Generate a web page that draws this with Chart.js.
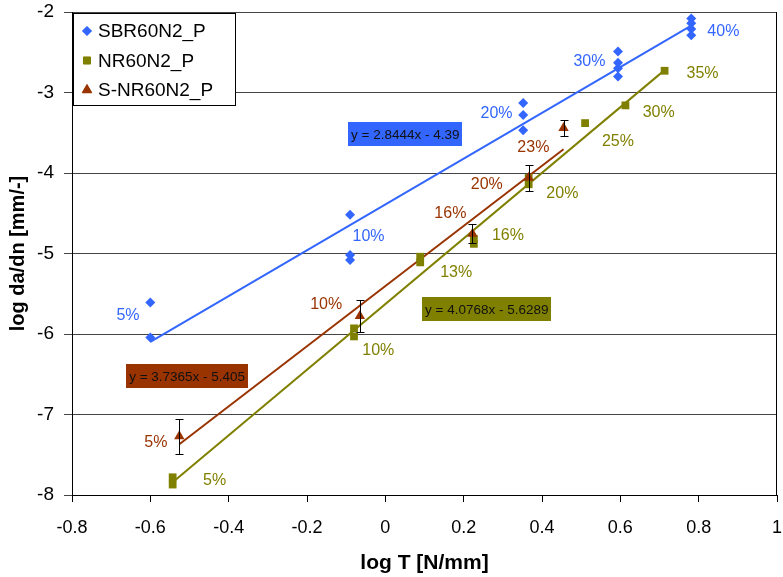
<!DOCTYPE html>
<html>
<head>
<meta charset="utf-8">
<script src="https://cdn.jsdelivr.net/npm/chart.js@4/dist/chart.umd.min.js"></script>
<style>
html,body{margin:0;padding:0;background:#fff}
</style>
</head>
<body>
<canvas id="chart" width="783" height="577"></canvas>
<script>
// series data (log T, log da/dn)
const sbrX = [-0.6, -0.6, -0.09, -0.09, -0.09, 0.352, 0.352, 0.352, 0.594, 0.594, 0.594, 0.594, 0.781, 0.781, 0.781, 0.781];
const sbrY = [-5.61, -6.045, -4.52, -5.02, -5.08, -3.13, -3.28, -3.47, -2.49, -2.63, -2.70, -2.80, -2.08, -2.14, -2.21, -2.29];
const nrX = [-0.543, -0.543, -0.08, -0.08, 0.089, 0.089, 0.226, 0.226, 0.366, 0.366, 0.510, 0.613, 0.713];
const nrY = [-7.78, -7.87, -5.93, -6.03, -5.04, -5.11, -4.82, -4.88, -4.06, -4.14, -3.38, -3.16, -2.73];
const snrX = [-0.526, -0.065, 0.2225, 0.366, 0.455];
const snrY = [-7.27, -5.775, -4.755, -4.06, -3.44];
const snrErr = [0.22, 0.20, 0.12, 0.16, 0.10];

const seriesNames = ['SBR60N2_P', 'NR60N2_P', 'S-NR60N2_P'];
const trendSlope = [2.8444, 4.0768, 3.7365];
const trendIntercept = [-4.39, -5.6289, -5.405];
const trendFrom = [-0.6, -0.543, -0.526];
const trendTo = [0.781, 0.713, 0.455];
const trendText = ['y = 2.8444x - 4.39', 'y = 4.0768x - 5.6289', 'y = 3.7365x - 5.405'];

const sbrPct = ['5%', '10%', '20%', '30%', '40%'];
const nrPct = ['5%', '10%', '13%', '16%', '20%', '25%', '30%', '35%'];
const snrPct = ['5%', '10%', '16%', '20%', '23%'];

const xTicks = [-0.8, -0.6, -0.4, -0.2, 0, 0.2, 0.4, 0.6, 0.8, 1];
const yTicks = [-8, -7, -6, -5, -4, -3, -2];

// styling / placement (data coords for where the text sits)
const COLORS = ['#3366ff', '#808000', '#993300'];
const FONT = '"Liberation Sans", Arial, sans-serif';
const pctPos = [
  [[-0.657,-5.77],[-0.043,-4.79],[0.284,-3.26],[0.521,-2.61],[0.863,-2.24]],
  [[-0.436,-7.82],[-0.018,-6.20],[0.181,-5.24],[0.313,-4.78],[0.452,-4.26],[0.594,-3.61],[0.698,-3.25],[0.810,-2.765]],
  [[-0.586,-7.35],[-0.151,-5.63],[0.166,-4.51],[0.259,-4.14],[0.378,-3.68]]
];
const eqPos = [[0.051,-3.52],[0.259,-5.69],[-0.506,-6.52]];

const pts = (xs, ys) => xs.map((v, i) => ({x: v, y: ys[i]}));
const trend = i => [
  {x: trendFrom[i], y: trendSlope[i] * trendFrom[i] + trendIntercept[i]},
  {x: trendTo[i], y: trendSlope[i] * trendTo[i] + trendIntercept[i]}
];
const noPad = s => { s.paddingTop = 0; s.paddingBottom = 0; s.paddingLeft = 0; s.paddingRight = 0; };

const overlay = {
  id: 'overlay',
  beforeDatasetsDraw(chart){
    const {ctx, chartArea: a} = chart;
    ctx.save();
    ctx.strokeStyle = '#000'; ctx.lineWidth = 1;
    ctx.beginPath();
    ctx.moveTo(Math.round(a.right) - 0.5, a.top); ctx.lineTo(Math.round(a.right) - 0.5, a.bottom);
    ctx.stroke();
    ctx.restore();
  },
  afterDatasetsDraw(chart){
    const {ctx, scales: {x, y}} = chart;
    ctx.save();
    // error bars
    ctx.strokeStyle = '#000'; ctx.lineWidth = 1;
    snrX.forEach((v, i) => {
      const px = Math.round(x.getPixelForValue(v)) + 0.5;
      const t = Math.round(y.getPixelForValue(snrY[i] + snrErr[i])) + 0.5;
      const b = Math.round(y.getPixelForValue(snrY[i] - snrErr[i])) + 0.5;
      ctx.beginPath();
      ctx.moveTo(px, t); ctx.lineTo(px, b);
      ctx.moveTo(px - 4, t); ctx.lineTo(px + 4, t);
      ctx.moveTo(px - 4, b); ctx.lineTo(px + 4, b);
      ctx.stroke();
    });
    // percent labels
    ctx.font = '16px ' + FONT;
    ctx.textAlign = 'center'; ctx.textBaseline = 'middle';
    [sbrPct, nrPct, snrPct].forEach((labels, s) => {
      ctx.fillStyle = COLORS[s];
      labels.forEach((t, i) => {
        const p = pctPos[s][i];
        ctx.fillText(t, x.getPixelForValue(p[0]), y.getPixelForValue(p[1]));
      });
    });
    // equation boxes
    ctx.font = '13.5px ' + FONT;
    trendText.forEach((t, i) => {
      const cx = x.getPixelForValue(eqPos[i][0]), cy = y.getPixelForValue(eqPos[i][1]);
      const w = ctx.measureText(t).width + 6, h = 24;
      ctx.fillStyle = COLORS[i];
      ctx.fillRect(Math.round(cx - w / 2), Math.round(cy - h / 2), Math.round(w), h);
      ctx.fillStyle = '#111';
      ctx.fillText(t, cx, cy + 1);
    });
    // legend
    const lx = 73, ly = 13, lw = 162, lh = 92;
    ctx.fillStyle = '#fff';
    ctx.fillRect(lx, ly, lw, lh);
    ctx.strokeStyle = '#000';
    ctx.strokeRect(lx + 0.5, ly + 0.5, lw, lh);
    ctx.font = '19px ' + FONT;
    ctx.textAlign = 'left';
    const styles = ['rectRot', 'rect', 'triangle'];
    const radii = [4.5, 5, 5.5];
    seriesNames.forEach((n, i) => {
      const rowY = ly + 18 + i * 29.5;
      ctx.fillStyle = COLORS[i]; ctx.strokeStyle = COLORS[i];
      Chart.helpers.drawPoint(ctx, {pointStyle: styles[i], radius: radii[i], borderWidth: 1}, lx + 14, rowY);
      ctx.fill();
      ctx.fillStyle = '#000';
      ctx.fillText(n, lx + 25, rowY + 1);
    });
    ctx.restore();
  }
};

new Chart(document.getElementById('chart'), {
  type: 'scatter',
  data: {
    datasets: [
      {label: seriesNames[0], data: pts(sbrX, sbrY), pointStyle: 'rectRot', pointRadius: 5,
        backgroundColor: COLORS[0], borderColor: COLORS[0], borderWidth: 0, order: 3},
      {label: seriesNames[1], data: pts(nrX, nrY), pointStyle: 'rect', pointRadius: 5.5,
        backgroundColor: COLORS[1], borderColor: COLORS[1], borderWidth: 0, order: 2},
      {label: seriesNames[2], data: pts(snrX, snrY), pointStyle: 'triangle', pointRadius: 6,
        backgroundColor: COLORS[2], borderColor: COLORS[2], borderWidth: 0, order: 1},
      {data: trend(0), showLine: true, pointRadius: 0, borderColor: COLORS[0], borderWidth: 2, order: 6},
      {data: trend(1), showLine: true, pointRadius: 0, borderColor: COLORS[1], borderWidth: 2, order: 5},
      {data: trend(2), showLine: true, pointRadius: 0, borderColor: COLORS[2], borderWidth: 2, order: 4}
    ]
  },
  options: {
    responsive: false,
    animation: false,
    devicePixelRatio: 1,
    layout: {padding: {top: 12, right: 3, left: 0, bottom: 0}},
    plugins: {legend: {display: false}, tooltip: {enabled: false}},
    scales: {
      x: {
        type: 'linear', min: -0.8, max: 1,
        afterBuildTicks: s => { s.ticks = xTicks.map(v => ({value: v})); },
        afterFit: s => { s.height = 82; noPad(s); },
        ticks: {color: '#000', font: {size: 18, family: FONT}, padding: 15, maxRotation: 0,
          callback: v => String(Number(v.toFixed(1)))},
        grid: {drawOnChartArea: false, color: '#000', tickLength: 7},
        border: {color: '#000'},
        title: {display: true, text: 'log T [N/mm]', color: '#000',
          font: {size: 21, weight: 'bold', family: FONT}, padding: {top: 0, bottom: 1}}
      },
      y: {
        type: 'linear', min: -8, max: -2,
        afterBuildTicks: s => { s.ticks = yTicks.map(v => ({value: v})); },
        afterFit: s => { s.width = 72; noPad(s); },
        ticks: {color: '#000', font: {size: 19, family: FONT}, padding: 10},
        grid: {color: '#444', tickLength: 8},
        border: {color: '#000'},
        title: {display: true, text: 'log da/dn [mm/-]', color: '#000',
          font: {size: 20, weight: 'bold', family: FONT}, padding: {top: 6, bottom: 0}}
      }
    }
  },
  plugins: [overlay]
});
</script>
</body>
</html>
